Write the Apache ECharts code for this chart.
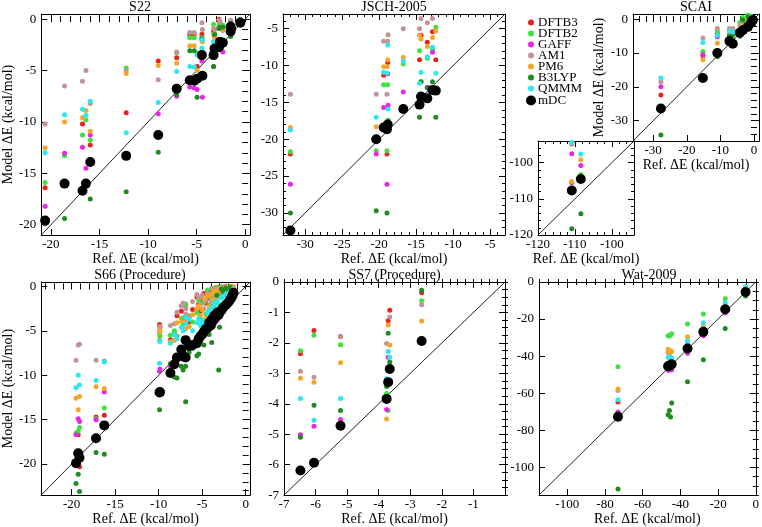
<!DOCTYPE html>
<html><head><meta charset="utf-8">
<script src="https://cdn.jsdelivr.net/npm/echarts@6/dist/echarts.min.js"></script>
<style>html,body{margin:0;padding:0;background:#fff}#c{width:762px;height:527px}</style>
</head><body><div id="c"></div>
<script>
// ---------- methods / legend ----------
const methods = ['DFTB3','DFTB2','GAFF','AM1','PM6','B3LYP','QMMM','mDC'];
const methodColors = ['#e8231f','#3de23d','#e826e8','#c49494','#f5a62a','#1f8a1f','#2ee6ee','#000000'];

// ---------- S22 ----------
const s22_ref   = [-20.6,-18.6,-16.75,-16.4,-15.95,-12.25,-8.95,-7.05,-5.7,-5.25,-4.95,-4.45,-4.4,-3.25,-3.15,-2.7,-2.6,-2.3,-1.5,-1.5,-1.45,-0.5];
const s22_DFTB3 = [-16.4,null,-10.2,null,-12.24,-9.1,-4.07,-3.75,-1.5,-1.5,-4.6,-1.48,-3.4,-1.2,-1.7,0,-0.3,-0.8,-0.9,-0.5,-0.6,-0.2];
const s22_DFTB2 = [-15.9,-13.3,-11.27,-9.8,-11.75,-4.75,null,-3.3,-1.8,-1.8,-3.3,-1.8,-3.5,-0.5,-1.4,-0.7,-0.6,-0.6,-0.75,-0.5,-1.0,-0.1];
const s22_GAFF  = [-18.2,-13.05,-12.47,-14.5,-11.27,null,-9.2,-7.5,-6.6,-6.7,-6.85,-4.07,-7.6,-4.6,-2.8,-2.9,-2.5,-3.2,-1.2,-1.4,-1.5,-0.4];
const s22_AM1   = [-10.2,-6.5,-6.05,-5.0,-8.2,-5.0,-5.9,-3.2,-1.3,-1.3,null,-0.34,-1.0,-0.9,-1.0,-0.1,-0.3,-1.1,-0.1,-0.3,-0.2,-0.1];
const s22_PM6   = [-12.5,-10.0,-9.6,-8.9,-10.9,-5.3,-4.5,-4.3,-2.6,-2.6,-5.0,-2.1,-2.2,-1.5,-1.8,-0.8,-0.9,-1.0,-0.5,-0.6,-0.8,-0.2];
const s22_B3LYP = [-19.9,-19.4,null,null,-17.5,-16.8,-12.95,-7.35,-3.07,-3.07,-7.6,-1.9,-3.4,-4.6,-1.5,-0.9,-0.8,-0.8,-0.4,-1.7,-0.5,0];
const s22_QMMM  = [-13.0,-9.3,-8.77,-9.36,-8.0,-11.05,-8.1,-5.1,-4.6,-4.65,-3.5,-2.8,-2.0,-2.2,-2.3,-2.0,-2.0,-2.0,-1.0,-1.0,-1.1,-0.3];
const s22_mDC   = [-19.6,-16.0,-16.7,-16.0,-13.9,-13.3,-11.27,-6.76,-5.95,-6.0,-5.8,-3.5,-5.5,-3.5,-2.85,-2.74,-2.2,-2.3,-1.2,-0.75,-0.9,-0.34];

// ---------- JSCH-2005 ----------
const jsch_ref   = [-32,-20.4,-19.4,-18.95,-18.85,-18.8,-16.75,-14.55,-14.35,-13.5,-12.8,-12.35];
const jsch_DFTB3 = [-22.0,null,-11.3,-22.0,-9.6,null,null,-9.2,-5.9,-6.85,-5.4,-9.2];
const jsch_DFTB2 = [-21.7,-21.55,-12.6,-21.55,-12.6,-17.4,-9.8,-8.0,-12.2,-9.0,-7.8,-4.8];
const jsch_GAFF  = [-26.1,-22.0,-15.7,-26.1,-11.1,-15.4,-13.6,-14.7,null,-12.95,-8.2,null];
const jsch_AM1   = [-13.9,-13.9,-6.7,-13.9,-6.7,-5.8,-5.0,-5.0,-3.6,-4.2,-3.6,null];
const jsch_PM6   = [-18.4,-18.3,-10.15,-10.15,-9.2,null,-8.9,-5.9,-6.4,-7.4,-6.2,-5.3];
const jsch_B3LYP = [-30.0,-29.7,null,-30.0,-17.6,null,null,-17.0,-12.2,-13.0,-12.2,-17.0];
const jsch_QMMM  = [-18.75,-17.0,-10.9,-11.0,-7.2,-15.9,-9.4,-12.4,-10.9,-8.8,-7.5,-11.05];
const jsch_mDC   = [-32.4,-20.0,-18.4,-18.65,-18.0,null,-15.9,-15.3,-14.2,-14.45,-13.3,-13.4];

// ---------- SCAI (main) ----------
const scai_ref   = [-27.7,-15.2,-10.9,-7.3,-6.3,-4.2,-3.3,-1.8,-0.8,-0.3];
const scai_DFTB3 = [-22.4,-10.8,-4.3,-3.8,-3.2,-4.0,-1.5,-0.5,-0.3,-0.2];
const scai_DFTB2 = [null,-9.6,-3.6,-3.5,-3.2,-1.0,0.5,1.2,0.8,0.5];
const scai_GAFF  = [-20.0,-10.5,-5.2,-5.7,-4.5,-3.5,-2.0,-1.0,-0.8,-0.5];
const scai_AM1   = [-18.5,-5.6,-2.8,-2.8,-2.8,-2.0,-0.8,-0.3,-0.2,0];
const scai_PM6   = [null,-12.0,-7.1,-4.3,-3.8,-4.3,-1.8,-0.9,-0.5,-0.3];
const scai_B3LYP = [-34.2,null,-11.1,-5.0,-4.8,-5.1,-0.3,0.6,0.2,0.1];
const scai_QMMM  = [-17.4,-6.9,-4.8,-3.5,-3.8,-3.8,-2.5,-1.5,-0.8,-0.4];
const scai_mDC   = [-26.4,-17.4,-10.0,-6.5,-7.3,-4.0,-3.3,-2.3,-1.1,-0.3];

// ---------- SCAI (inset, salt bridges) ----------
const inset_ref   = [-110.85,-108.4];
const inset_DFTB3 = [-105.5,null];
const inset_DFTB2 = [null,-103.3];
const inset_GAFF  = [-97.5,-100.75];
const inset_AM1   = [-94.9,null];
const inset_PM6   = [-105.2,-99.2];
const inset_B3LYP = [-118.3,-114.1];
const inset_QMMM  = [-94.4,-97.6];
const inset_mDC   = [-107.7,-104.5];

// ---------- S66 ----------
const s66_ref   = [-19.5,-19.25,-19.1,-17.2,-16.25,-9.9,-9.85,-8.65,-8.2,-7.9,-7.4,-7.2,-6.9,-6.9,-6.5,-6.1,-5.6,-5.4,-5.2,-5.0,-4.8,-4.6,-4.4,-4.2,-4.0,-3.9,-3.7,-3.6,-3.4,-3.3,-3.1,-3.0,-2.8,-2.6,-2.3,-2.0,-1.8,-1.6,-1.5,-1.4];
const s66_DFTB3 = [-18.8,-16.7,-20.3,-14.7,-14.5,-4.3,-4.6,-6.0,-5.3,-3.3,-2.8,-3.6,-2.0,-3.4,-4.0,-2.6,-1.2,-2.0,-2.8,-1.5,-0.8,-1.9,-0.6,-1.3,-2.2,-0.4,-1.0,-0.2,-1.6,-0.5,-0.1,-0.9,-0.3,-0.1,0.0,-0.2,-0.1,0.0,-0.2,-0.1];
const s66_DFTB2 = [-16.5,-16.3,-15.9,-14.9,-13.7,-5.3,-5.6,-5.5,-5.0,-5.6,-3.6,-4.3,-2.2,-2.0,-3.3,-4.0,-3.0,-1.6,-3.7,-2.6,-1.8,-3.1,-0.4,-2.1,-1.2,-0.3,-0.9,-0.2,-0.1,-0.6,-0.4,-1.0,0.0,-0.5,-0.2,-0.1,0.0,-0.3,-0.2,-0.1];
const s66_GAFF  = [-16.7,-14.9,-15.2,-15.0,-11.9,-9.56,-9.3,-9.0,-8.5,-8.1,-7.6,-7.2,-6.9,-7.6,-6.6,-6.7,-6.4,-5.9,-5.8,-5.5,-5.2,-4.9,-5.3,-4.4,-4.6,-4.1,-3.9,-4.2,-3.5,-3.8,-3.3,-3.1,-2.9,-2.6,-2.4,-2.2,-1.9,-1.7,-1.5,-1.3];
const s66_AM1   = [-8.3,-6.6,-6.5,-8.3,-8.4,-6.05,-4.5,-4.4,-4.2,-2.9,-2.2,-1.9,-3.1,-2.5,-3.5,-1.7,-0.9,-1.3,-2.0,-1.0,-2.5,-1.6,-0.8,-0.9,-1.6,-0.2,-0.6,-0.3,-0.5,-1.1,-0.3,-0.8,-0.1,-0.2,-0.1,-0.3,-0.2,0.0,-0.1,-0.1];
const s66_PM6   = [-12.6,-13.9,-12.4,-11.3,-11.5,-4.9,-5.1,-6.2,-6.1,-4.1,-3.9,-4.7,-4.8,-4.0,-4.5,-3.2,-2.5,-2.2,-3.3,-2.6,-1.4,-3.6,-1.1,-2.3,-2.9,-0.9,-1.5,-0.6,-1.9,-0.8,-0.3,-1.2,-0.5,-0.4,-0.2,-0.1,-0.3,-0.2,-0.1,0.0];
const s66_B3LYP = [-22.2,-21.15,-23.1,-18.7,-18.9,-13.9,-12.0,-8.7,-10.2,-10.3,-9.0,-9.4,-13.0,-9.0,-7.4,-7.0,-7.8,-7.6,-6.2,-5.6,-6.6,-5.0,-4.4,-5.4,-4.0,-6.3,-3.6,-2.4,-3.1,-1.0,-9.4,-4.6,-0.3,-0.6,-0.2,-0.4,-0.1,-0.8,-1.5,-0.9];
const s66_QMMM  = [-11.4,-10.0,-11.1,-10.6,-8.5,-8.66,-6.2,-6.4,-5.4,-5.9,-4.6,-5.0,-3.5,-4.2,-3.7,-5.0,-4.1,-3.6,-4.4,-4.0,-3.9,-4.7,-3.0,-2.7,-3.4,-2.4,-2.2,-1.9,-2.8,-1.6,-2.0,-2.6,-1.3,-1.1,-0.9,-0.8,-0.6,-0.5,-0.4,-0.3];
const s66_mDC   = [-19.9,-18.8,-19.3,-17.1,-15.65,-11.95,-11.9,-9.75,-8.77,-8.0,-7.1,-7.9,-6.05,-8.0,-6.7,-6.6,-6.4,-5.9,-5.6,-5.4,-5.1,-4.8,-4.7,-4.1,-4.4,-3.7,-3.8,-3.3,-3.4,-3.0,-3.2,-2.9,-2.7,-2.4,-2.1,-1.8,-1.5,-1.2,-1.0,-0.7];

// ---------- SS7 ----------
const ss7_ref   = [-6.48,-6.05,-5.21,-3.75,-3.7,-3.65,-2.64];
const ss7_DFTB3 = [-2.36,-1.59,-1.79,null,-1.27,-0.93,-0.35];
const ss7_DFTB2 = [-2.26,-1.75,-2.06,-3.66,-4.22,null,-0.62];
const ss7_GAFF  = [-5.02,-4.74,-4.52,-4.19,-2.47,null,null];
const ss7_AM1   = [-2.93,-3.13,-1.8,-2.02,null,-1.15,-0.75];
const ss7_PM6   = [-3.16,-3.29,-2.65,-4.5,-1.41,-2.07,-1.28];
const ss7_B3LYP = [-5.1,-4.05,-4.22,-3.43,-1.68,-2.63,-0.27];
const ss7_QMMM  = [-3.83,-4.54,-3.83,-3.18,-2.28,-2.47,null];
const ss7_mDC   = [-6.19,-5.94,-4.72,-3.84,-3.29,-2.86,-1.94];

// ---------- Wat-2009 ----------
const wat_ref   = [-73.1,-46.5,-45.8,-45.2,-44.6,-36.2,-27.8,-16.2,-5.4];
const wat_DFTB3 = [-64.7,-44.0,null,null,null,-34.0,-24.9,-14.5,-4.5];
const wat_DFTB2 = [-45.8,-29.0,-29.2,-28.5,-27.9,-22.7,-17.3,-9.1,-4.0];
const wat_GAFF  = [-70.2,-47.6,-47.5,-47.3,-47.3,-38.4,-29.0,-16.7,-5.8];
const wat_AM1   = [-58.6,-38.0,-39.0,null,null,-33.0,-25.0,-14.0,-4.5];
const wat_PM6   = [-57.7,-36.3,-38.0,-37.1,-37.5,-29.5,-23.7,-14.0,-4.5];
const wat_B3LYP = [-111.7,-71.6,-69.4,-72.9,-65.3,-53.8,-42.0,-25.1,-7.5];
const wat_QMMM  = [-63.6,-40.6,-41.0,-40.8,-41.0,-31.9,-22.0,-11.3,-2.6];
const wat_mDC   = [-72.7,-45.5,-45.2,-44.8,-44.4,-35.9,-26.9,-14.7,-5.4];

// ---------- tick labels ----------
const s22Ticks   = [-20,-15,-10,-5,0];
const jschTicks  = [-30,-25,-20,-15,-10,-5];
const scaiTicks  = [-30,-20,-10,0];
const insetTicks = [-120,-110,-100];
const s66Ticks   = [-20,-15,-10,-5,0];
const ss7XTicks  = [-7,-6,-5,-4,-3,-2,-1];
const ss7YTicks  = [-7,-6,-5,-4,-3,-2,-1,0];
const watXTicks  = [-100,-80,-60,-40,-20,0];
const watYTicks  = [-100,-80,-60,-40,-20,0];

// ---------- build ----------
const FONT = '"Liberation Serif","DejaVu Serif",serif';
const XNAME = 'Ref. \u0394E (kcal/mol)';
const YNAME = 'Model \u0394E (kcal/mol)';

function steps(a, b, s) { const out = []; for (let v = a; v <= b + 1e-9; v += s) out.push(Math.round(v * 1000) / 1000); return out; }

const panels = [
  {title:'S22', box:[30,14,220,221], xr:[-21,0.5], yr:[-21,0.5], xt:s22Ticks, yt:s22Ticks, minor:1, xName:true, yName:true,
   ref:s22_ref, v:[s22_DFTB3,s22_DFTB2,s22_GAFF,s22_AM1,s22_PM6,s22_B3LYP,s22_QMMM,s22_mDC]},
  {title:'JSCH-2005', box:[283,14,222,221], xr:[-33,-3], yr:[-33,-3], xt:jschTicks, yt:jschTicks, minor:1, xName:true, yName:false,
   ref:jsch_ref, v:[jsch_DFTB3,jsch_DFTB2,jsch_GAFF,jsch_AM1,jsch_PM6,jsch_B3LYP,jsch_QMMM,jsch_mDC]},
  {title:'SCAI', box:[633,14,126,127], xr:[-36,1.5], yr:[-36,1.5], xt:scaiTicks, yt:scaiTicks, minor:2, xName:true, yName:true,
   ref:scai_ref, v:[scai_DFTB3,scai_DFTB2,scai_GAFF,scai_AM1,scai_PM6,scai_B3LYP,scai_QMMM,scai_mDC]},
  {title:null, box:[538,141,96,94], xr:[-120,-94], yr:[-120,-94], xt:insetTicks, yt:insetTicks, minor:2, xName:true, yName:false,
   ref:inset_ref, v:[inset_DFTB3,inset_DFTB2,inset_GAFF,inset_AM1,inset_PM6,inset_B3LYP,inset_QMMM,inset_mDC]},
  {title:'S66 (Procedure)', box:[30,282,220,220], xr:[-23.5,0.5], yr:[-23.5,0.5], xt:s66Ticks, yt:s66Ticks, minor:1, xName:true, yName:true,
   ref:s66_ref, v:[s66_DFTB3,s66_DFTB2,s66_GAFF,s66_AM1,s66_PM6,s66_B3LYP,s66_QMMM,s66_mDC]},
  {title:'SS7 (Procedure)', box:[284,282,221,220], xr:[-7,0], yr:[-7,0], xt:ss7XTicks, yt:ss7YTicks, minor:0.25, xName:true, yName:false,
   ref:ss7_ref, v:[ss7_DFTB3,ss7_DFTB2,ss7_GAFF,ss7_AM1,ss7_PM6,ss7_B3LYP,ss7_QMMM,ss7_mDC]},
  {title:'Wat-2009', box:[539,282,220,220], xr:[-115,0], yr:[-115,0], xt:watXTicks, yt:watYTicks, minor:5, xName:true, yName:false,
   ref:wat_ref, v:[wat_DFTB3,wat_DFTB2,wat_GAFF,wat_AM1,wat_PM6,wat_B3LYP,wat_QMMM,wat_mDC]}
];

const grid = [], xAxis = [], yAxis = [], series = [], title = [];
const lbl = {fontFamily:FONT, fontSize:13, color:'#000'};

panels.forEach((p, gi) => {
  const [l, t, w, h] = p.box;
  grid.push({left:l, top:t, width:w, height:h, containLabel:false, show:false});
  const minorX = steps(Math.ceil(p.xr[0]/p.minor)*p.minor, p.xr[1], p.minor);
  const minorY = steps(Math.ceil(p.yr[0]/p.minor)*p.minor, p.yr[1], p.minor);
  const xi = xAxis.length, yi = yAxis.length;
  ['bottom','top'].forEach((pos, k) => {
    xAxis.push({type:'value', gridIndex:gi, position:pos, min:p.xr[0], max:p.xr[1],
      splitLine:{show:false},
      axisLine:{show:true, onZero:false, lineStyle:{color:'#000', width:1}},
      axisTick:{show:true, inside:true, length:6, customValues:p.xt, lineStyle:{color:'#000'}},
      axisLabel:Object.assign({show:k===0, customValues:p.xt, margin:3}, lbl),
      name:(k===0 && p.xName) ? XNAME : '', nameLocation:'middle', nameGap:13,
      nameTextStyle:{fontFamily:FONT, fontSize:14, color:'#000'}});
    xAxis.push({type:'value', gridIndex:gi, position:pos, min:p.xr[0], max:p.xr[1],
      splitLine:{show:false}, axisLine:{show:false},
      axisTick:{show:true, inside:true, length:3, customValues:minorX, lineStyle:{color:'#000'}},
      axisLabel:{show:false}});
  });
  ['left','right'].forEach((pos, k) => {
    yAxis.push({type:'value', gridIndex:gi, position:pos, min:p.yr[0], max:p.yr[1],
      splitLine:{show:false},
      axisLine:{show:true, onZero:false, lineStyle:{color:'#000', width:1}},
      axisTick:{show:true, inside:true, length:6, customValues:p.yt, lineStyle:{color:'#000'}},
      axisLabel:Object.assign({show:k===0, customValues:p.yt, margin:5}, lbl),
      name:(k===0 && p.yName) ? YNAME : '', nameLocation:'middle', nameGap:19,
      nameTextStyle:{fontFamily:FONT, fontSize:14, color:'#000'}});
    yAxis.push({type:'value', gridIndex:gi, position:pos, min:p.yr[0], max:p.yr[1],
      splitLine:{show:false}, axisLine:{show:false},
      axisTick:{show:true, inside:true, length:3, customValues:minorY, lineStyle:{color:'#000'}},
      axisLabel:{show:false}});
  });
  // diagonal y = x
  series.push({type:'line', name:'diagonal', xAxisIndex:xi, yAxisIndex:yi, silent:true, symbol:'none',
    lineStyle:{color:'#222', width:1}, z:1,
    data:[[p.xr[0], p.yr[0]], [p.xr[1], p.yr[1]]]});
  methods.forEach((m, mi) => {
    const vals = p.v[mi];
    const data = [];
    p.ref.forEach((x, i) => { if (vals[i] !== null && vals[i] !== undefined) data.push([x, vals[i]]); });
    series.push({type:'scatter', name:m, xAxisIndex:xi, yAxisIndex:yi, data,
      symbol:'circle', symbolSize: m === 'mDC' ? 10 : 5,
      itemStyle:{color:methodColors[mi], opacity:1}, z:2 + mi, silent:true});
  });
  if (p.title) title.push({text:p.title, left:l + w/2, top:t - 14, textAlign:'center', padding:0,
    textStyle:{fontFamily:FONT, fontSize:14, fontWeight:'normal', color:'#000'}});
});

const chart = echarts.init(document.getElementById('c'), null, {renderer:'canvas'});
chart.setOption({
  animation:false,
  backgroundColor:'#fff',
  title,
  grid, xAxis, yAxis, series,
  legend:[
    {data:methods.slice(0,7), orient:'vertical', left:528, top:16, itemGap:-2, itemWidth:6, itemHeight:6,
     icon:'circle', padding:0, selectedMode:false, textStyle:{fontFamily:FONT, fontSize:13, color:'#000', padding:[0,0,0,-1]}},
    {data:['mDC'], orient:'vertical', left:526, top:94, itemWidth:10, itemHeight:10, icon:'circle', padding:0,
     selectedMode:false, textStyle:{fontFamily:FONT, fontSize:13, color:'#000', padding:[0,0,0,-3]}}
  ]
});
</script></body></html>
